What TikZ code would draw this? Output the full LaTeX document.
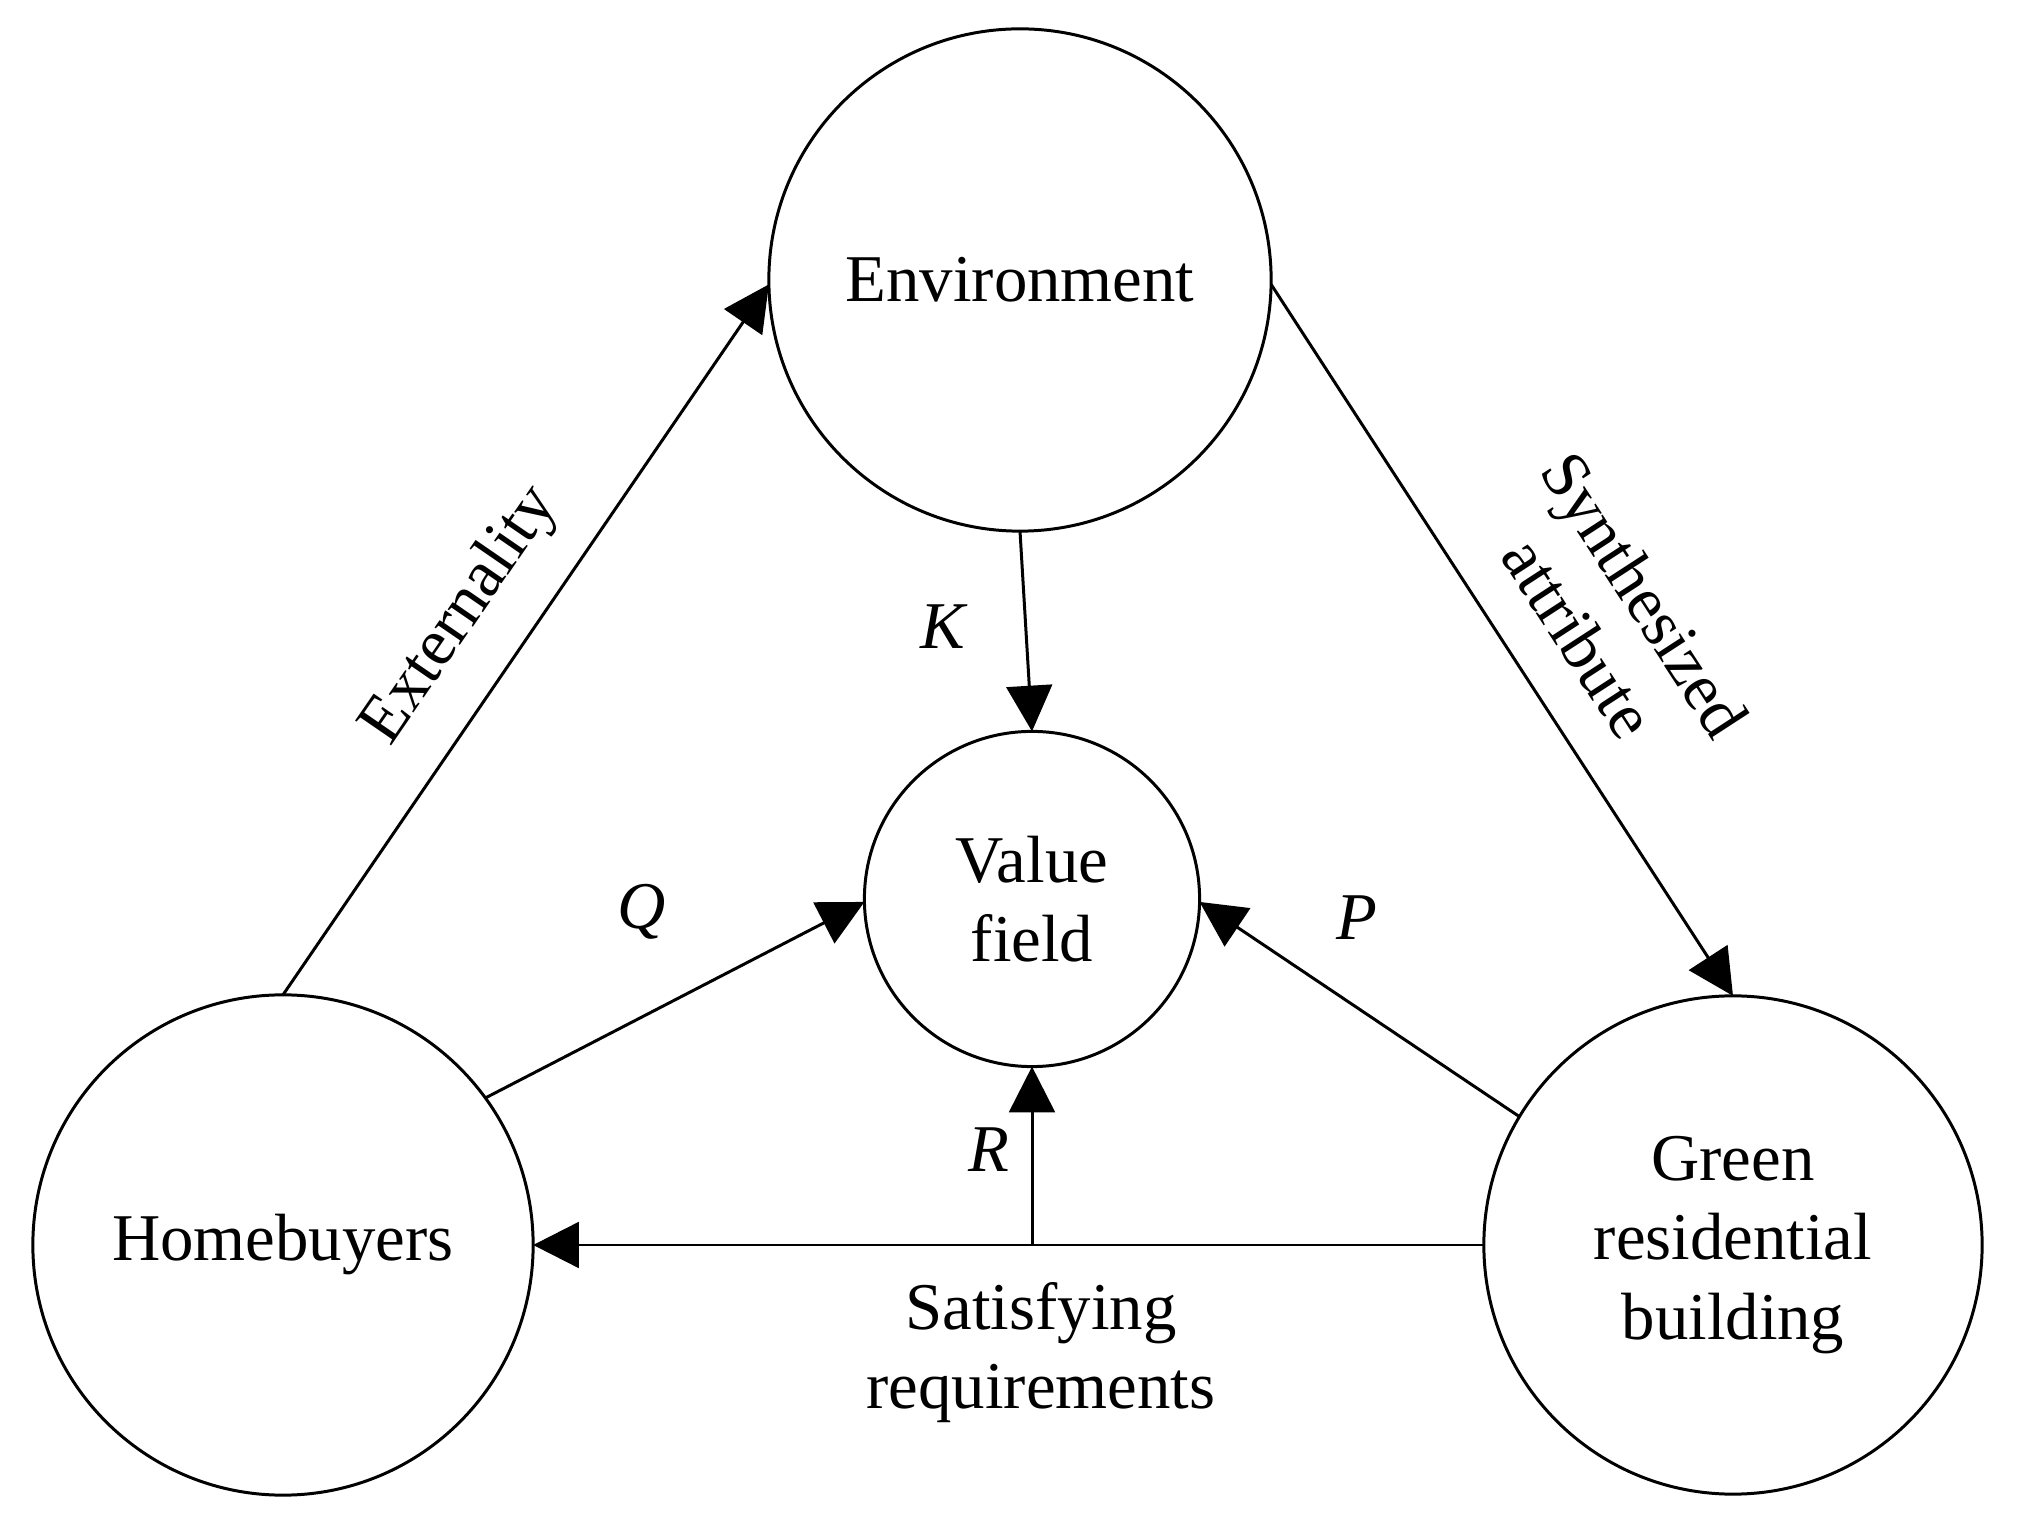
\documentclass[tikz,border=0pt]{standalone}
\usepackage{fontspec}
\setmainfont{Liberation Serif}
\usetikzlibrary{arrows.meta}
\begin{document}
\begin{tikzpicture}[x=0.01cm,y=-0.01cm,
  every node/.style={font=\fontsize{19pt}{22.5pt}\selectfont},
  bub/.style={circle,draw,line width=0.85pt,inner sep=0pt,outer sep=0pt,align=center},
  conn/.style={line width=0.85pt,-{Triangle[length=13pt,width=13pt]}},
  lab/.style={inner sep=0pt,align=center}]
\useasboundingbox (0,0) rectangle (2020,1525);
\node[bub,minimum size=5.02cm] (env) at (1020,280) {Environment};
\node[bub,minimum size=3.35cm] (vf) at (1032,899) {Value\\field};
\node[bub,minimum size=5.0cm] (hb) at (283,1245) {Homebuyers};
\node[bub,minimum size=4.98cm] (gr) at (1733,1245) {Green\\residential\\building};
\coordinate (rj) at (vf.south |- gr.west);
\draw[conn] (hb.90) -- (env.181);
\draw[conn] (env.-1) -- (gr.90);
\draw[conn] (env.south) -- (vf.north);
\draw[conn] (hb.36) -- (vf.181);
\draw[conn] (gr.149) -- (vf.-1);
\draw[conn] (gr.west) -- (hb.east);
\draw[conn] (rj) -- (vf.south);
\node[lab,rotate=55.5] (lext) at (461,616) {Externality};
\node[lab,rotate=-57] (lsyn) at (1612,616) {Synthesized\\attribute};
\node[lab] (lk) at (944,627) {\textit{K}};
\node[lab] (lq) at (642,912) {\textit{Q}};
\node[lab] (lp) at (1357,918) {\textit{P}};
\node[lab] (lr) at (989,1150) {\textit{R}};
\node[lab] (lsat) at (1041,1353) {Satisfying\\requirements};
\end{tikzpicture}
\end{document}
